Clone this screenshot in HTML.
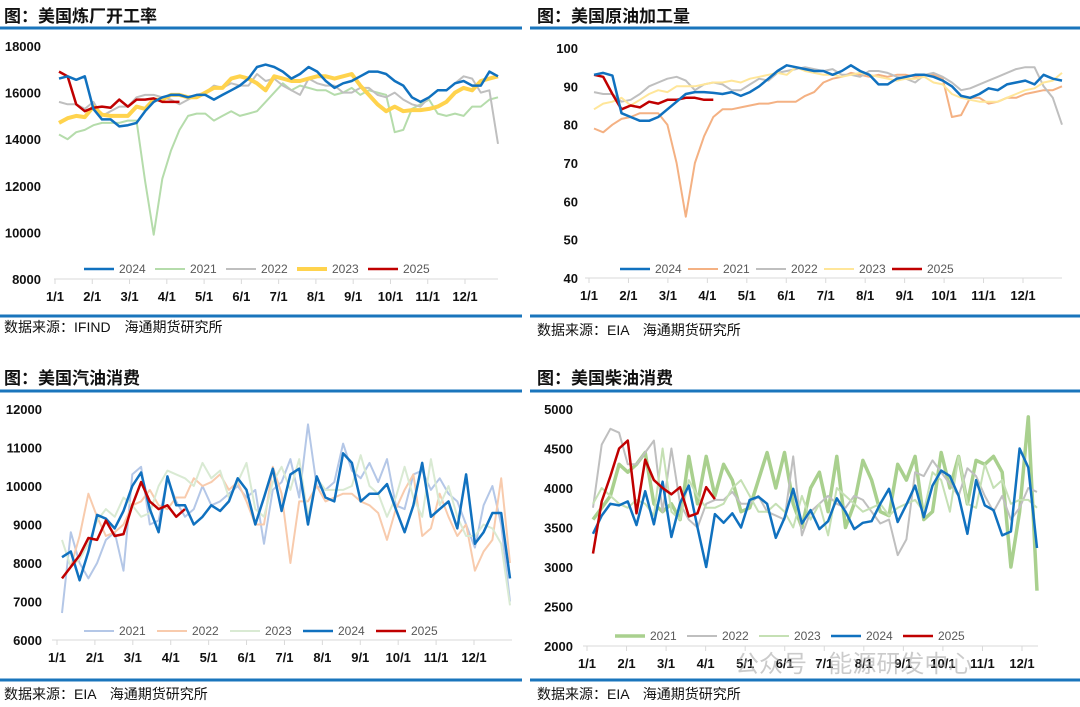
<!DOCTYPE html>
<html><head><meta charset="utf-8"><style>
body{margin:0;background:#fff;width:1080px;height:707px;overflow:hidden;font-family:"Liberation Sans","Noto Sans CJK SC",sans-serif}
svg{position:absolute;left:0;top:0}
</style></head><body>
<svg id="s" width="1080" height="707" xmlns="http://www.w3.org/2000/svg" font-family="Liberation Sans, Noto Sans CJK SC, sans-serif">
<g font-size="17" font-weight="bold" fill="#111">
<text x="4" y="22">图：美国炼厂开工率</text>
<text x="537" y="22">图：美国原油加工量</text>
<text x="4" y="384">图：美国汽油消费</text>
<text x="537" y="384">图：美国柴油消费</text>
</g>
<g stroke="#1a75bc" stroke-width="3">
<line x1="0" y1="28" x2="522" y2="28"/><line x1="530" y1="28" x2="1080" y2="28"/>
<line x1="0" y1="316" x2="522" y2="316"/><line x1="530" y1="316" x2="1080" y2="316"/>
<line x1="0" y1="391" x2="522" y2="391"/><line x1="530" y1="391" x2="1080" y2="391"/>
<line x1="0" y1="680" x2="522" y2="680"/><line x1="530" y1="680" x2="1080" y2="680"/>
</g>
<g font-size="14" fill="#111">
<text x="4" y="332">数据来源：IFIND　海通期货研究所</text>
<text x="537" y="335">数据来源：EIA　海通期货研究所</text>
<text x="4" y="699">数据来源：EIA　海通期货研究所</text>
<text x="537" y="699">数据来源：EIA　海通期货研究所</text>
</g>
<g id="c"></g>
<text x="735" y="672" font-size="24" fill="#aaa" opacity="0.6">公众号 · 能源研发中心</text>
</svg>
<script>
const g=document.getElementById('c');let h='';
const months=['1/1','2/1','3/1','4/1','5/1','6/1','7/1','8/1','9/1','10/1','11/1','12/1'];
function panel(o){
 const {ax0,ax1,yT,yB,vmin,vmax,ticks,lx,px0,px1,series,legY,legX,legW,mx0,mx1}=o;
 const Y=v=>yB-(v-vmin)/(vmax-vmin)*(yB-yT);
 ticks.forEach(t=>{h+=`<text x="${lx}" y="${Y(t)+5}" text-anchor="end" font-size="13" font-weight="bold" fill="#111">${t}</text>`});
 h+=`<line x1="${ax0}" y1="${yB}" x2="${ax1}" y2="${yB}" stroke="#d9d9d9" stroke-width="1"/>`;
 months.forEach((m,i)=>{const x=mx0+(mx1-mx0)*i/11;h+=`<line x1="${x}" y1="${yB}" x2="${x}" y2="${yB+5}" stroke="#d9d9d9"/><text x="${x}" y="${yB+22}" text-anchor="middle" font-size="13" font-weight="bold" fill="#111">${m}</text>`});
 series.forEach(s=>{const st=(px1-px0)/51;h+=`<polyline fill="none" stroke="${s.c}" stroke-width="${s.w}" stroke-linejoin="round" points="${s.d.map((v,i)=>(px0+i*st).toFixed(1)+','+Y(v).toFixed(1)).join(' ')}"/>`});
 let x=legX;
 o.legOrder.forEach(i=>{const s=series[i];h+=`<line x1="${x}" y1="${legY-4}" x2="${x+30}" y2="${legY-4}" stroke="${s.c}" stroke-width="${s.w}"/><text x="${x+35}" y="${legY}" font-size="12" fill="#595959">${s.n}</text>`;x+=legW});
}
const B='#1071bf',R='#c00000',GR='#bfbfbf',YE='#ffd34d';
panel({ax0:54,ax1:498,yT:46,yB:279,vmin:8000,vmax:18000,ticks:[8000,10000,12000,14000,16000,18000],lx:41,px0:59,px1:498,mx0:55,mx1:465,legY:273,legX:84,legW:71,legOrder:[4,0,1,2,3],
series:[
{n:'2021',c:'#b5dcab',w:2,d:[14200,14000,14300,14400,14600,14700,14700,14700,14800,14800,12200,9900,12300,13500,14400,15000,15100,15100,14800,15000,15200,15000,15100,15200,15600,16000,16400,16100,16300,16200,16100,16100,15900,16000,16200,15900,16100,16000,15900,14300,14400,15300,15500,15700,15100,15000,15100,15000,15400,15400,15700,15800]},
{n:'2022',c:GR,w:2,d:[15600,15500,15500,15300,15600,15000,15200,15400,15400,15800,15900,15900,15800,15700,15500,15700,15900,16000,16300,16200,16400,16300,16300,16800,16500,16600,16300,16100,15900,16600,16400,16300,16300,16000,16000,16200,16200,15900,15800,16000,15700,15500,15400,15800,16100,16100,16400,16700,16600,16000,16100,13800]},
{n:'2023',c:YE,w:4,d:[14700,14900,15000,14950,15400,15050,15000,15000,15000,15400,15300,15700,15700,15900,15900,15800,15800,16000,16200,16200,16600,16700,16600,16400,16100,16700,16600,16500,16500,16600,16700,16700,16600,16700,16800,16300,15900,15500,15200,15400,15200,15250,15250,15300,15400,15600,16000,16200,16100,16500,16600,16700]},
{n:'2025',c:R,w:2.5,d:[16900,16700,15500,15200,15350,15400,15350,15700,15400,15700,15700,15750,15600,15600,15600]},
{n:'2024',c:B,w:2.5,d:[16600,16700,16550,16700,15300,14850,14850,14550,14600,14700,15200,15600,15800,15900,15900,15800,15900,15900,15700,15900,16100,16300,16600,17100,17200,17100,16900,16600,16800,17100,16900,16500,16200,16400,16500,16700,16900,16900,16800,16500,16300,15800,15600,15800,16100,16100,16400,16500,16300,16300,16900,16700]}
]});
panel({ax0:585,ax1:1062,yT:48,yB:278,vmin:40,vmax:100,ticks:[40,50,60,70,80,90,100],lx:578,px0:594,px1:1062,mx0:589,mx1:1023,legY:273,legX:620,legW:68,legOrder:[4,0,1,2,3],
series:[
{n:'2021',c:'#f4b183',w:2,d:[79,78,80,81.5,82,83,83,83,80,70,56,70,77,82,84,84,84.5,85,85.5,85.5,86,86,86,87.5,88.5,91,92,92.5,93.5,93,92.5,93,92.5,93,93,92.5,93,93,92,82,82.5,87,87,85.5,86,87,87,88,88.5,89,89,90]},
{n:'2022',c:GR,w:2,d:[88.5,88,88,86,86.5,88,90,91,92,92.5,91.5,89,90.5,91,90.5,89,89,90.5,92,91.5,93.5,94,94.5,95,94.5,94,94.5,93,93,92.5,94,94,93.5,92.5,92,91,93,93.5,92.5,91,89,89.5,90.5,91.5,92.5,93.5,94.5,95,95,90,87,80]},
{n:'2023',c:'#ffe699',w:2,d:[84,85.5,86,87,85,86.5,88,89,88.5,90,90,90,90.5,91,91,91.5,91,92,92.5,93,93.5,93,95,94,93.5,93,93,92.5,93,93.5,93,92.5,92,91.5,92,92,92.5,91,90.5,88,87,86.5,86,86,86,87,88,89,89.5,91,91.5,93.5]},
{n:'2025',c:R,w:2.5,d:[93,92.5,88,84,85,84.5,86,85.5,86.5,86.5,87,87,86.5,86.5]},
{n:'2024',c:B,w:2.5,d:[93,93.5,92.8,83,82,81,81,82,84,86,88,88.5,88.5,88.3,88,88.5,87.5,88.5,90,92,94,95.5,95,94.5,94,94,93,94,95.5,94,93,90.5,90.5,92,92.5,93,93,92.5,91.5,90,87.5,87,88,89.5,89,90.5,91,91.5,90.5,93,92,91.5]}
]});
panel({ax0:52,ax1:512,yT:409,yB:640,vmin:6000,vmax:12000,ticks:[6000,7000,8000,9000,10000,11000,12000],lx:42,px0:62,px1:510,mx0:57,mx1:474,legY:635,legX:84,legW:73,legOrder:[0,1,2,3,4],
series:[
{n:'2021',c:'#b4c7e7',w:2,d:[6700,8800,8000,7600,8000,8600,8800,7800,10300,10500,9000,9100,10200,9600,9200,9400,10000,9500,9600,9800,10000,9700,9900,8500,9900,10100,10700,9700,11600,10000,9900,10100,11100,10400,10200,10600,10100,10700,9500,9400,10300,10400,9900,10200,9800,9600,9000,8400,9500,10000,9000,7000]},
{n:'2022',c:'#f8cbad',w:2,d:[7600,7900,8700,9800,9200,8700,8800,9000,9500,9600,9900,9500,9400,9700,9700,10200,10000,10100,10300,9900,10100,9600,9000,9000,10500,9800,8000,9600,9600,10000,9600,9700,9800,9800,9600,9500,9300,8600,9400,9900,10300,8700,8900,9800,9200,8700,9000,7800,8300,8600,10200,8000]},
{n:'2023',c:'#d9ead3',w:2,d:[8600,7900,8100,8500,9100,9400,9200,9700,9500,9200,9300,10000,10400,10300,10200,10000,10600,10200,10400,9700,10100,10600,9400,9200,10100,10500,9900,10700,9200,10200,9900,9900,9900,10000,10800,10000,9800,9200,9700,10500,9700,9200,10700,9500,10000,9200,8700,8700,9000,8900,8500,6900]},
{n:'2024',c:B,w:2.5,d:[8150,8300,7550,8300,9250,9150,8900,9350,10000,10350,9400,8800,10250,9500,9500,9000,9200,9500,9350,9600,10200,9900,9000,9700,10450,9350,10300,10450,9000,10250,9700,9600,10850,10600,9600,9800,9800,10050,9400,8800,9500,10600,9200,9400,9600,8900,10300,8500,8800,9300,9300,7600]},
{n:'2025',c:R,w:2.5,d:[7600,7900,8200,8650,8600,9100,8700,8750,9500,10100,9600,9400,9500,9200,9400]}
]});
panel({ax0:583,ax1:1038,yT:409,yB:646,vmin:2000,vmax:5000,ticks:[2000,2500,3000,3500,4000,4500,5000],lx:573,px0:593,px1:1037,mx0:587,mx1:1022,legY:640,legX:615,legW:72,legOrder:[0,1,2,3,4],
series:[
{n:'2021',c:'#a9d08e',w:3.5,d:[3600,3750,3900,4300,4200,4300,4450,3800,3700,3800,3600,4400,3800,4400,3900,4300,4100,3700,3750,4100,4450,4000,4450,3800,3500,4000,4200,3700,4400,3500,3800,4350,4100,3700,3650,4300,4100,4400,3600,3700,4450,4000,4400,3800,4350,4300,4400,4200,3000,3700,4900,2700]},
{n:'2022',c:GR,w:2,d:[3750,4550,4750,4700,4300,4300,4450,4600,3700,4500,3800,3600,3500,3800,3850,3850,3950,3800,3800,3900,3700,3650,3600,4400,3400,3700,3800,3900,3800,3750,3900,3850,3700,3550,3600,3150,3350,4200,4150,4350,4200,4050,3900,4250,4150,3900,3700,3900,3600,3750,4000,3950]},
{n:'2023',c:'#c5e0b4',w:2,d:[3800,4000,3900,3800,3750,3850,3800,3650,4500,3700,3600,4100,3900,3750,3750,3800,4000,4100,3900,3700,3700,3800,3700,3500,3900,3600,3800,3400,4000,3900,3800,3700,3750,3800,3650,3750,3800,3850,3700,4200,4100,3700,4400,3800,3750,4300,4000,4100,3800,3850,3850,3750]},
{n:'2024',c:B,w:2.5,d:[3420,3650,3800,3780,3830,3530,3960,3540,4080,3380,3810,4030,3500,3000,3670,3560,3680,3500,3850,3890,3800,3370,3620,3990,3550,3720,3480,3580,3870,3700,3480,3560,3580,3800,3990,3570,3790,4030,3630,4030,4220,4150,3900,3420,4100,3780,3720,3400,3450,4500,4260,3240]},
{n:'2025',c:R,w:2.5,d:[3170,3830,4150,4500,4600,3680,4360,4100,4000,3920,4010,3640,3680,4010,3860]}
]});
g.innerHTML=h;
</script>
</body></html>
